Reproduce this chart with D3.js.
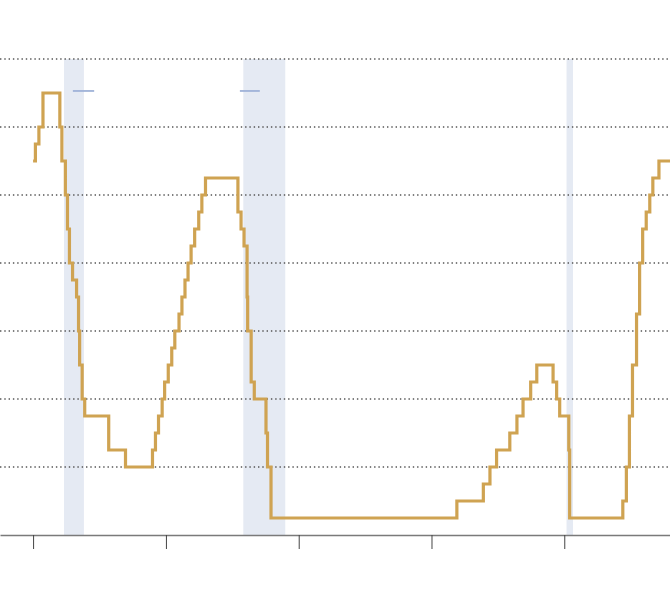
<!DOCTYPE html>
<html lang="en">
<head>
<meta charset="UTF-8">
<title>Policy rate steps</title>
<style>
    body { margin: 0; background: #fff; }
    .grid line { stroke: #555; stroke-width: 1.4; stroke-dasharray: 1.4 2.9; }
    .axis path { stroke: #7a7a7a; stroke-width: 1.6; }
    .axis line { stroke: #444; stroke-width: 1; }
</style>
</head>
<body>
<svg width="670" height="590"></svg>
<script src="https://d3js.org/d3.v7.min.js"></script>
<script>
// rate changes (upper bound of target, %), step after each date
const changeDates = [
    "2000-01-01", "2000-02-02", "2000-03-21", "2000-05-16",
    "2001-01-03", "2001-01-31", "2001-03-20", "2001-04-18", "2001-05-15", "2001-06-27",
    "2001-08-21", "2001-09-17", "2001-10-02", "2001-11-06", "2001-12-11",
    "2002-11-06", "2003-06-25",
    "2004-06-30", "2004-08-10", "2004-09-21", "2004-11-10", "2004-12-14",
    "2005-02-02", "2005-03-22", "2005-05-03", "2005-06-30", "2005-08-09", "2005-09-20",
    "2005-11-01", "2005-12-13",
    "2006-01-31", "2006-03-28", "2006-05-10", "2006-06-29",
    "2007-09-18", "2007-10-31", "2007-12-11",
    "2008-01-22", "2008-01-30", "2008-03-18", "2008-04-30", "2008-10-08", "2008-10-29", "2008-12-16",
    "2015-12-16", "2016-12-14",
    "2017-03-15", "2017-06-14", "2017-12-13",
    "2018-03-21", "2018-06-13", "2018-09-26", "2018-12-19",
    "2019-07-31", "2019-09-18", "2019-10-30",
    "2020-03-03", "2020-03-15",
    "2022-03-16", "2022-05-04", "2022-06-15", "2022-07-27", "2022-09-21", "2022-11-02", "2022-12-14",
    "2023-02-01", "2023-03-22", "2023-05-03", "2023-07-26", "2024-01-01"
];
const rates = [
    5.5, 5.75, 6.0, 6.5,
    6.0, 5.5, 5.0, 4.5, 4.0, 3.75,
    3.5, 3.0, 2.5, 2.0, 1.75,
    1.25, 1.0,
    1.25, 1.5, 1.75, 2.0, 2.25,
    2.5, 2.75, 3.0, 3.25, 3.5, 3.75,
    4.0, 4.25,
    4.5, 4.75, 5.0, 5.25,
    4.75, 4.5, 4.25,
    3.5, 3.0, 2.25, 2.0, 1.5, 1.0, 0.25,
    0.5, 0.75,
    1.0, 1.25, 1.5,
    1.75, 2.0, 2.25, 2.5,
    2.25, 2.0, 1.75,
    1.25, 0.25,
    0.5, 1.0, 1.75, 2.5, 3.25, 4.0, 4.5,
    4.75, 5.0, 5.25, 5.5, 5.5
];

// recessions
const recessionStart = ["2001-03-01", "2007-12-01", "2020-02-01"];
const recessionEnd = ["2001-11-30", "2009-06-30", "2020-04-30"];

// short blue marks above the first two recessions
const markStart = ["2001-07-01", "2007-10-15"];
const markEnd = ["2002-04-20", "2008-07-15"];
const markLevel = [6.53, 6.53];

const tickYears = [2000, 2005, 2010, 2015, 2020];
const gridValues = [1, 2, 3, 4, 5, 6, 7];

const parse = d3.timeParse("%Y-%m-%d");
const width = 670, height = 590;
const svg = d3.select("svg");

const x = d3.scaleTime()
    .domain([new Date(1998, 9, 3), new Date(2023, 11, 25)])
    .range([0, width]);

const y = d3.scaleLinear()
    .domain([0, 7])
    .range([535, 59]);

// recession bands
svg.append("g").selectAll("rect")
    .data(recessionStart.map((s, i) => [parse(s), parse(recessionEnd[i])]))
    .enter().append("rect")
    .attr("x", d => x(d[0]))
    .attr("width", d => x(d[1]) - x(d[0]))
    .attr("y", y(7))
    .attr("height", y(0) - y(7))
    .attr("fill", "#e5eaf3");

// dotted gridlines
svg.append("g")
    .attr("class", "grid")
    .selectAll("line")
    .data(gridValues)
    .enter().append("line")
    .attr("x1", 0)
    .attr("x2", width)
    .attr("y1", d => y(d))
    .attr("y2", d => y(d));

// blue marks
svg.append("g").selectAll("line")
    .data(markStart.map((s, i) => ({ a: parse(s), b: parse(markEnd[i]), v: markLevel[i] })))
    .enter().append("line")
    .attr("x1", d => x(d.a))
    .attr("x2", d => x(d.b))
    .attr("y1", d => y(d.v))
    .attr("y2", d => y(d.v))
    .attr("stroke", "#9fb3d8")
    .attr("stroke-width", 1.8);

// x axis
svg.append("g")
    .attr("class", "axis")
    .attr("transform", `translate(0,${y(0)})`)
    .call(d3.axisBottom(x)
        .tickValues(tickYears.map(yr => new Date(yr, 0, 1)))
        .tickSize(14)
        .tickSizeOuter(0)
        .tickFormat(""));

// step line
const data = changeDates.map((d, i) => ({ date: parse(d), rate: rates[i] }));

svg.append("path")
    .datum(data)
    .attr("fill", "none")
    .attr("stroke", "#cfa352")
    .attr("stroke-width", 3.2)
    .attr("d", d3.line()
        .x(d => x(d.date))
        .y(d => y(d.rate))
        .curve(d3.curveStepAfter));
</script>
</body>
</html>
